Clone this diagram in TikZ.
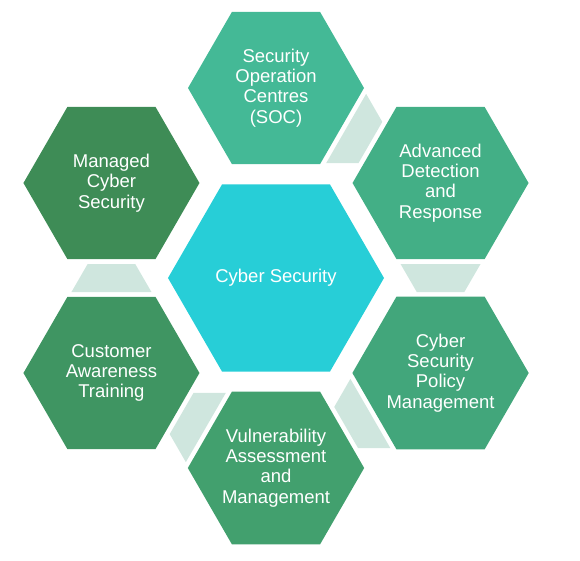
\documentclass[tikz,border=0pt]{standalone}
\usepackage{fontspec}
\setmainfont{Liberation Sans}
\usetikzlibrary{shapes.geometric,calc}

\definecolor{corecyan}{HTML}{27CED7}
\definecolor{socgreen}{HTML}{44B996}
\definecolor{adrgreen}{HTML}{43AF86}
\definecolor{polgreen}{HTML}{42A67B}
\definecolor{vamgreen}{HTML}{42A06E}
\definecolor{catgreen}{HTML}{3F9562}
\definecolor{mcsgreen}{HTML}{3E8C56}
\definecolor{linkfill}{HTML}{CFE6DE}

\tikzset{hexa/.style={regular polygon,regular polygon sides=6,minimum size=176pt,
           inner sep=0pt,text=white,align=center,
           font=\fontsize{18.5}{20.3}\selectfont},
         link/.style={fill=linkfill}}

\begin{document}
\begin{tikzpicture}[x=1pt,y=1pt]
 \useasboundingbox (-276,-282) rectangle (304,278);
 \node [hexa,minimum size=216pt,fill=corecyan] (core) at (0,0) {Cyber Security};
 \node [hexa,fill=socgreen] (soc) at (90:190) {Security\\Operation\\Centres\\(SOC)};
 \node [hexa,fill=adrgreen] (adr) at (30:190) {Advanced\\Detection\\and\\Response};
 \node [hexa,fill=polgreen] (pol) at (-30:190) {Cyber\\Security\\Policy\\Management};
 \node [hexa,fill=vamgreen] (vam) at (-90:190) {Vulnerability\\Assessment\\and\\Management};
 \node [hexa,fill=catgreen] (cat) at (-150:190) {Customer\\Awareness\\Training};
 \node [hexa,fill=mcsgreen] (mcs) at (150:190) {Managed\\Cyber\\Security};
 % links between the outer cells, narrow end towards the next cell
 \foreach \a/\b/\r in {soc/adr/-120,adr/pol/180,pol/vam/120,vam/cat/60,cat/mcs/0}
 {
  \begin{scope}[shift={($(\a)!0.5!(\b)$)},rotate=\r]
   \fill [link] (-40,-14) -- (40,-14) -- (23.8,14) -- (-23.8,14) -- cycle;
  \end{scope}
 }
\end{tikzpicture}
\end{document}
